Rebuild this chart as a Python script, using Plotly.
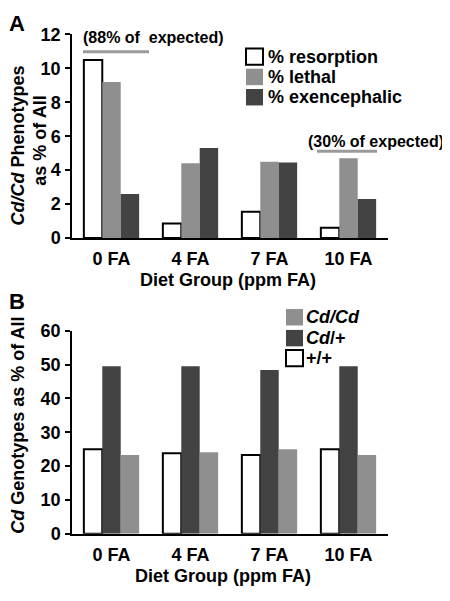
import plotly.graph_objects as go

# ---------------- data ----------------
groups = ["0 FA", "4 FA", "7 FA", "10 FA"]

# Panel A: Cd/Cd phenotypes as % of all
a_names = ["% resorption", "% lethal", "% exencephalic"]
a_resorption = [10.5, 0.85, 1.55, 0.6]
a_lethal = [9.2, 4.4, 4.5, 4.7]
a_exencephalic = [2.6, 5.3, 4.45, 2.3]
a_ticks = [0, 2, 4, 6, 8, 10, 12]

# Panel B: Cd genotypes as % of all
b_names = ["+/+", "Cd/+", "Cd/Cd"]
b_wt = [25.0, 23.8, 23.3, 25.0]
b_het = [49.5, 49.5, 48.4, 49.5]
b_hom = [23.3, 24.1, 25.0, 23.3]
b_ticks = [0, 10, 20, 30, 40, 50, 60]

# ---------------- style ----------------
FONT = "Liberation Sans, Arial, sans-serif"
WHITE, GRAY, DARK = "#ffffff", "#8f8f8f", "#434343"
OFF = 8                     # page body margin of the html page
W, H = 450 - OFF, 601 - OFF


def px(x):
    return (x - OFF) / W


def py(y):
    return 1 - (y - OFF) / H


fig = go.Figure()

a_series = [(a_names[0], a_resorption, WHITE), (a_names[1], a_lethal, GRAY), (a_names[2], a_exencephalic, DARK)]
for name, vals, col in a_series:
    fig.add_trace(go.Bar(
        x=groups, y=vals, name=name, xaxis="x", yaxis="y",
        marker=dict(color=col, line=dict(color="black", width=2 if col == WHITE else 0)),
        showlegend=False,
    ))

b_series = [(b_names[0], b_wt, WHITE), (b_names[1], b_het, DARK), (b_names[2], b_hom, GRAY)]
for name, vals, col in b_series:
    fig.add_trace(go.Bar(
        x=groups, y=vals, name=name, xaxis="x2", yaxis="y2",
        marker=dict(color=col, line=dict(color="black", width=2 if col == WHITE else 0)),
        showlegend=False,
    ))

tickfont = dict(family=FONT, size=18, color="black", weight="bold")
xcommon = dict(domain=[px(72), px(388)], showline=True, linecolor="black", linewidth=1.5,
               ticks="", showgrid=False, tickfont=tickfont, zeroline=False,
               ticklabelstandoff=4, fixedrange=True)
ycommon = dict(showline=True, linecolor="black", linewidth=1.5, ticks="outside",
               ticklen=5, tickwidth=1.5, tickcolor="black", showgrid=False,
               zeroline=False, tickfont=tickfont, fixedrange=True, ticklabelstandoff=1)

fig.update_layout(
    width=W, height=H,
    margin=dict(l=0, r=0, t=0, b=0),
    paper_bgcolor="white", plot_bgcolor="white",
    barmode="group", bargap=0.3, bargroupgap=0,
    xaxis=dict(**xcommon, anchor="y"),
    yaxis=dict(**ycommon, anchor="x", domain=[py(235.7), py(25)], range=[0, 12],
               tickvals=a_ticks),
    xaxis2=dict(**xcommon, anchor="y2"),
    yaxis2=dict(**ycommon, anchor="x2", domain=[py(541.7), py(331.7)], range=[0, 60],
                tickvals=b_ticks),
)

ann = []
shapes = []


def text(x, y, s, size=18, angle=0, xanchor="center"):
    ann.append(dict(x=px(x), y=py(y), xref="paper", yref="paper", text=s, showarrow=False,
                    textangle=angle, xanchor=xanchor, yanchor="middle", borderpad=0,
                    font=dict(family=FONT, size=size, color="black", weight="bold")))


# panel letters
text(17, 14, "A", size=22)
text(17, 301, "B", size=22)

# axis titles
text(228, 279, "Diet Group (ppm FA)")
text(223, 585, "Diet Group (ppm FA)")
text(18, 140, "<i>Cd/Cd</i> Phenotypes", angle=-90)
text(40, 135, "as % of All", angle=-90)
text(18, 430, "<i>Cd</i> Genotypes as % of All", angle=-90)

# bracket annotations
text(82, 28, "(88% of  expected)", size=16, xanchor="left")
text(307, 136, "(30% of expected)", size=16, xanchor="left")
for x0, x1, y in [(83, 149, 43), (317, 377, 146)]:
    shapes.append(dict(type="line", xref="paper", yref="paper", x0=px(x0), x1=px(x1),
                       y0=py(y), y1=py(y), line=dict(color="#9a9a9a", width=3)))


# custom legends
def legend(entries, x_sq, x_txt, ys, size=17):
    for (name, col), y in zip(entries, ys):
        shapes.append(dict(type="rect", xref="paper", yref="paper",
                           x0=px(x_sq), x1=px(x_sq + size), y0=py(y - size / 2), y1=py(y + size / 2),
                           fillcolor=col, line=dict(color="black" if col == WHITE else col,
                                                    width=2 if col == WHITE else 0)))
        text(x_txt, y, name, xanchor="left")


legend([(a_names[0], WHITE), (a_names[1], GRAY), (a_names[2], DARK)], 246, 267, [48, 69, 90])
legend([("<i>Cd/Cd</i>", GRAY), ("<i>Cd</i>/+", DARK), ("+/+", WHITE)], 286, 305, [317.7, 339.3, 360])

fig.update_layout(annotations=ann, shapes=shapes)
fig.write_html("out.html")
